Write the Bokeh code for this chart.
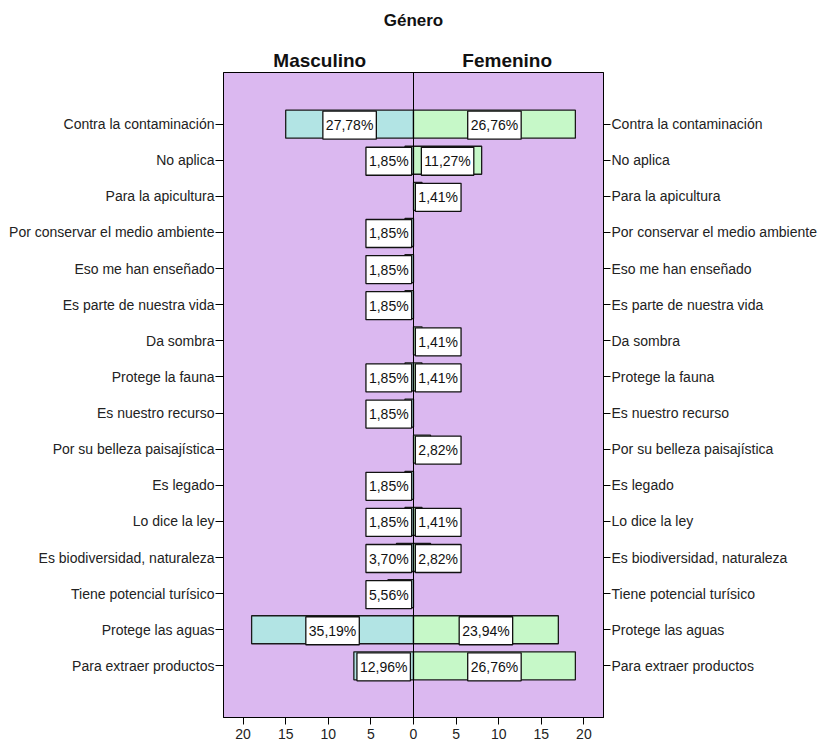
from bokeh.plotting import figure
from bokeh.models import (FactorRange, Range1d, CategoricalAxis, LinearAxis,
                          FixedTicker, ColumnDataSource, Span)
from bokeh.embed import file_html
from bokeh.resources import INLINE
from bokeh.core.properties import value

categories = [
    "Contra la contaminación",
    "No aplica",
    "Para la apicultura",
    "Por conservar el medio ambiente",
    "Eso me han enseñado",
    "Es parte de nuestra vida",
    "Da sombra",
    "Protege la fauna",
    "Es nuestro recurso",
    "Por su belleza paisajística",
    "Es legado",
    "Lo dice la ley",
    "Es biodiversidad, naturaleza",
    "Tiene potencial turísico",
    "Protege las aguas",
    "Para extraer productos",
]
male_counts = [15, 1, 0, 1, 1, 1, 0, 1, 1, 0, 1, 1, 2, 3, 19, 7]
female_counts = [19, 8, 1, 0, 0, 0, 1, 1, 0, 2, 0, 1, 2, 0, 17, 19]
male_total = 54
female_total = 71
group_labels = ["Masculino", "Femenino"]
title_text = "Género"
x_ticks = [-20, -15, -10, -5, 0, 5, 10, 15, 20]
x_tick_labels = ["20", "15", "10", "5", "0", "5", "10", "15", "20"]

FONT = "Liberation Sans"
BG = "#dbb8f0"
MALE_COLOR = "#b2e4e4"
FEMALE_COLOR = "#c6f8c8"


def pct(c, t):
    return f"{100 * c / t:.2f}".replace(".", ",") + "%"


factors = list(reversed(categories))
p = figure(width=819, height=743, title=None,
           y_range=FactorRange(factors=factors, range_padding=0.93,
                               range_padding_units="absolute"),
           x_range=Range1d(-22.3, 22.3),
           output_backend="svg", toolbar_location=None,
           min_border_left=223, min_border_right=215, min_border_top=72,
           min_border_bottom=26,
           background_fill_color=BG, border_fill_color="white")
p.outline_line_color = "black"
p.outline_line_width = 1
p.xgrid.visible = False
p.ygrid.visible = False

m_idx = [i for i, c in enumerate(male_counts) if c > 0]
msrc = ColumnDataSource(dict(
    y=[categories[i] for i in m_idx],
    left=[-male_counts[i] for i in m_idx],
    right=[0] * len(m_idx),
    label=[pct(male_counts[i], male_total) for i in m_idx],
    lx=[-max(male_counts[i] / 2, 2.9) for i in m_idx],
))
f_idx = [i for i, c in enumerate(female_counts) if c > 0]
fsrc = ColumnDataSource(dict(
    y=[categories[i] for i in f_idx],
    left=[0] * len(f_idx),
    right=[female_counts[i] for i in f_idx],
    label=[pct(female_counts[i], female_total) for i in f_idx],
    lx=[max(female_counts[i] / 2, 2.9) for i in f_idx],
))

for src, col in ((msrc, MALE_COLOR), (fsrc, FEMALE_COLOR)):
    p.hbar(y="y", left="left", right="right", height=0.775, source=src,
           fill_color=col, line_color="#1a1a1a", line_width=1.3)

p.add_layout(Span(location=0, dimension="height", line_color="black",
                  line_width=1))

for src in (msrc, fsrc):
    p.text(x="lx", y="y", text="label", source=src, text_align="center",
           text_baseline="middle", text_font=value(FONT),
           text_font_size="14px", text_color="#111111",
           background_fill_color="white", border_line_color="#111111",
           border_line_width=1.3,
           padding=dict(left=3, right=3, top=6, bottom=6), y_offset=1)


def style_cat_axis(ax, tick):
    ax.major_tick_out = tick
    ax.major_tick_in = 0
    ax.major_tick_line_color = "black"
    ax.axis_line_color = "black"
    ax.major_label_standoff = 1
    ax.major_label_text_font = FONT
    ax.major_label_text_font_size = "14px"
    ax.major_label_text_color = "#222222"


style_cat_axis(p.yaxis[0], 8)
right_axis = CategoricalAxis()
style_cat_axis(right_axis, 7)
p.add_layout(right_axis, "right")

xa = p.xaxis[0]
xa.ticker = FixedTicker(ticks=x_ticks)
xa.major_label_overrides = {t: l for t, l in zip(x_ticks, x_tick_labels)}
xa.major_tick_out = 7
xa.major_tick_in = 0
xa.minor_tick_line_color = None
xa.major_label_standoff = 4
xa.major_label_text_font = FONT
xa.major_label_text_font_size = "14px"
xa.major_label_text_color = "#222222"
xa.axis_line_color = "black"

top_axis = LinearAxis(ticker=FixedTicker(ticks=[-11, 11]),
                      major_label_overrides={-11: group_labels[0],
                                             11: group_labels[1]},
                      axis_label=title_text)
top_axis.axis_line_color = None
top_axis.major_tick_line_color = None
top_axis.minor_tick_line_color = None
top_axis.major_label_standoff = -4
top_axis.major_label_text_font = FONT
top_axis.major_label_text_font_size = "19px"
top_axis.major_label_text_font_style = "bold"
top_axis.major_label_text_color = "#111111"
top_axis.axis_label_text_font = FONT
top_axis.axis_label_text_font_size = "17px"
top_axis.axis_label_text_font_style = "bold"
top_axis.axis_label_text_color = "#111111"
top_axis.axis_label_standoff = 17
p.add_layout(top_axis, "above")

open("out.html", "w").write(file_html(p, INLINE))
